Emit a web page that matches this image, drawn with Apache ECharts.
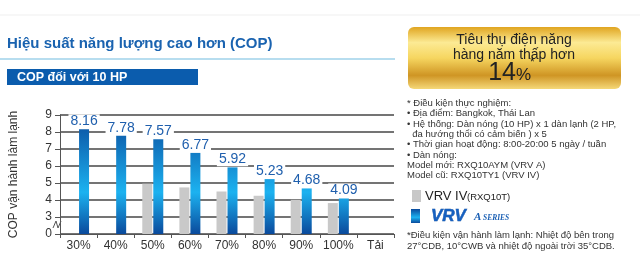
<!DOCTYPE html>
<html><head><meta charset="utf-8">
<script src="https://cdn.jsdelivr.net/npm/echarts@6/dist/echarts.min.js"></script>
<style>html,body{margin:0;padding:0;background:#fff}#c{width:640px;height:279px}</style>
</head><body><div id="c"></div>
<script>
var categories = ['30%','40%','50%','60%','70%','80%','90%','100%','Tải'];
var vrvIV = [null,null,4.96,4.74,4.50,4.25,4.01,3.82,null];
var vrvA = [8.16,7.78,7.57,6.77,5.92,5.23,4.68,4.09,null];
var yTickLabels = ['0','3','4','5','6','7','8','9'];
var titleText = 'Hiệu suất năng lượng cao hơn (COP)';
var subTitleText = 'COP đối với 10 HP';
var yName = 'COP vận hành làm lạnh';
var boxLines = ['Tiêu thụ điện năng','hàng năm thấp hơn'];
var boxValue = '14';
var notes = ['* Điều kiện thực nghiệm:','• Địa điểm: Bangkok, Thái Lan','• Hệ thống: Dàn nóng (10 HP) x 1 dàn lạnh (2 HP,','  đa hướng thổi có cảm biến ) x 5','• Thời gian hoạt động: 8:00-20:00 5 ngày / tuần','• Dàn nóng:','Model mới: RXQ10AYM (VRV A)','Model cũ: RXQ10TY1 (VRV IV)'];
var footNotes = ['*Điều kiện vận hành làm lạnh: Nhiệt độ bên trong','27°CDB, 10°CWB và nhiệt độ ngoài trời 35°CDB.'];

var FF = '"Liberation Sans", Arial, sans-serif';
var chart = echarts.init(document.getElementById('c'));
var blueGrad = {type:'linear', x:0, y:115, x2:0, y2:234, global:true,
  colorStops:[{offset:0,color:'#0a4a9c'},{offset:0.65,color:'#1cb2f0'},{offset:1,color:'#0a4a9c'}]};
var goldGrad = {type:'linear', x:0, y:0, x2:0, y2:1,
  colorStops:[{offset:0,color:'#e0a520'},{offset:0.25,color:'#fcea94'},{offset:0.5,color:'#f6d660'},{offset:0.78,color:'#cf9524'},{offset:1,color:'#f5d878'}]};

var g = [];
g.push({type:'line', shape:{x1:0,y1:15,x2:640,y2:15}, style:{stroke:'#efefef',lineWidth:1}});
g.push({type:'text', x:7, y:44, style:{text:titleText, font:'bold 15px '+FF, fill:'#1a63b0', verticalAlign:'middle'}});
g.push({type:'line', shape:{x1:0,y1:59,x2:395,y2:59}, style:{stroke:'#9fd2ea',lineWidth:1.5}});
g.push({type:'rect', shape:{x:7,y:69,width:191,height:16}, style:{fill:'#0b5cad'}});
g.push({type:'text', x:17, y:77.5, style:{text:subTitleText, font:'bold 12.5px '+FF, fill:'#fff', verticalAlign:'middle'}});
g.push({type:'rect', shape:{x:408,y:27,width:213,height:62,r:6}, style:{fill:goldGrad}});
g.push({type:'text', x:514, y:40, style:{text:boxLines[0], font:'14px '+FF, fill:'#222', align:'center', verticalAlign:'middle'}});
g.push({type:'text', x:514, y:55, style:{text:boxLines[1], font:'14px '+FF, fill:'#222', align:'center', verticalAlign:'middle'}});
g.push({type:'text', x:516, y:73, style:{text:boxValue, font:'25px '+FF, fill:'#222', align:'right', verticalAlign:'middle'}});
g.push({type:'text', x:516, y:75, style:{text:'%', font:'17px '+FF, fill:'#222', align:'left', verticalAlign:'middle'}});
g.push({type:'text', x:530, y:63, style:{text:'*', font:'12px '+FF, fill:'#222', align:'left', verticalAlign:'middle'}});
notes.forEach(function(t,i){
  g.push({type:'text', x:407, y:103.5+i*10.3, style:{text:t, font:'9.5px '+FF, fill:'#333', verticalAlign:'middle'}});
});
footNotes.forEach(function(t,i){
  g.push({type:'text', x:407, y:235+i*11.5, style:{text:t, font:'9.5px '+FF, fill:'#333', verticalAlign:'middle'}});
});
g.push({type:'rect', shape:{x:412,y:190,width:9,height:12}, style:{fill:'#c8c8c8'}});
g.push({type:'text', x:425, y:196.5, style:{text:'VRV IV', font:'13px '+FF, fill:'#222', verticalAlign:'middle'}});
g.push({type:'text', x:467, y:197.5, style:{text:'(RXQ10T)', font:'9.5px '+FF, fill:'#222', verticalAlign:'middle'}});
g.push({type:'rect', shape:{x:411,y:209,width:9,height:14}, style:{fill:{type:'linear',x:0,y:0,x2:0,y2:1,colorStops:[{offset:0,color:'#0a4a9c'},{offset:0.6,color:'#1cb2f0'},{offset:1,color:'#0a4a9c'}]}}});
g.push({type:'text', x:431, y:216, style:{text:'VRV', font:'italic 900 17px '+FF, fill:'#1660c0', stroke:'#0a4a9c', lineWidth:0.5, verticalAlign:'middle'}});
g.push({type:'text', x:474, y:217, style:{text:'A', font:'italic bold 11px "Liberation Serif", serif', fill:'#1a5fb4', verticalAlign:'middle'}});
g.push({type:'text', x:483, y:218, style:{text:'SERIES', font:'italic bold 7.5px "Liberation Serif", serif', fill:'#1a5fb4', verticalAlign:'middle'}});
g.push({type:'polyline', shape:{points:[[53,228],[56,221],[58,228],[61,221]]}, style:{stroke:'#555',lineWidth:1,fill:null}});

chart.setOption({
  animation:false,
  backgroundColor:'#fff',
  grid:{left:57, top:115, width:337, height:119},
  xAxis:{type:'category', data:categories, splitLine:{show:false},
    axisLine:{lineStyle:{color:'#555'}},
    axisTick:{show:true, length:4, interval:0, lineStyle:{color:'#555'}},
    axisLabel:{color:'#333', fontSize:12, fontFamily:FF, margin:6, interval:0}},
  yAxis:{type:'value', min:2, max:9, interval:1, name:yName, nameLocation:'middle', nameRotate:90, nameGap:40,
    nameTextStyle:{color:'#333', fontSize:12, fontFamily:FF},
    axisLine:{show:true, lineStyle:{color:'#555'}},
    axisTick:{show:true, length:5, lineStyle:{color:'#555'}},
    axisLabel:{color:'#333', fontSize:12, fontFamily:FF, margin:8, formatter:function(v,i){return yTickLabels[i];}},
    splitLine:{show:true, lineStyle:{color:'rgb(70,70,70)', width:1.5, type:'solid', opacity:1}}},
  series:[
    {type:'bar', name:'VRV IV', data:vrvIV, barWidth:10, barGap:'10%', clip:true, itemStyle:{color:'#c9c9c9'}},
    {type:'bar', name:'VRV A', data:vrvA, barWidth:10, clip:true, itemStyle:{color:blueGrad},
      label:{show:true, position:'top', distance:1, color:'#1f5fad', fontSize:14, fontFamily:FF, backgroundColor:'#fff', padding:[0,2,0,2],
        formatter:function(p){return p.value.toFixed(2);}}}
  ],
  graphic:g
});
</script></body></html>
